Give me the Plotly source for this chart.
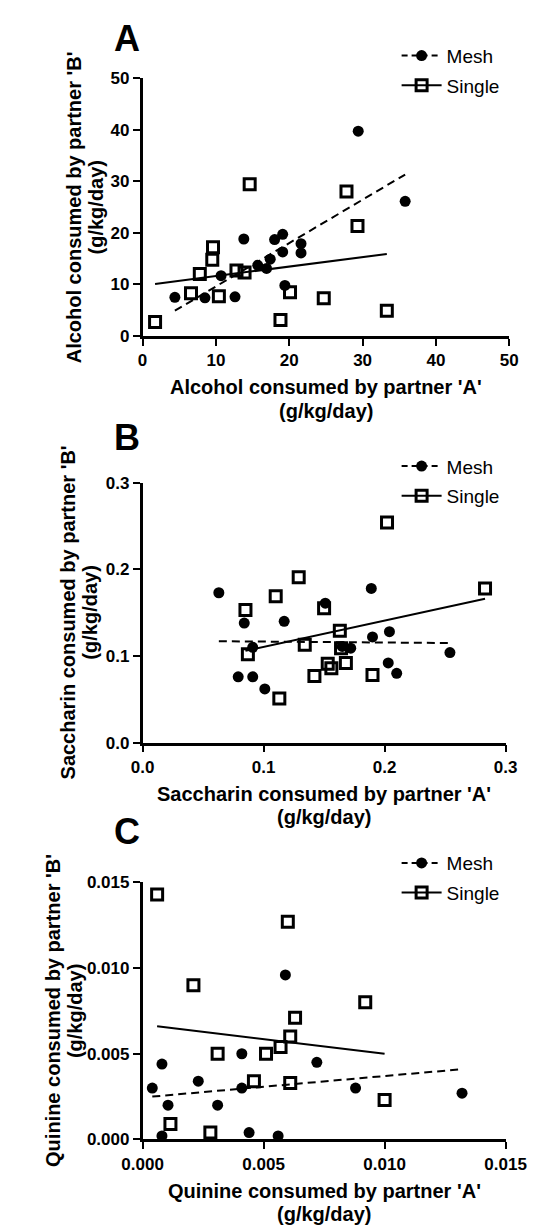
import plotly.graph_objects as go

# data: partner 'A' (x) vs partner 'B' (y), g/kg/day

# A - alcohol
mesh_a_x = [4.4, 8.5, 10.7, 12.6, 13.8, 15.7, 16.9, 17.4, 18.0, 19.1, 19.1, 19.4, 21.6, 21.6, 29.4, 35.8]
mesh_a_y = [7.5, 7.4, 11.7, 7.6, 18.8, 13.7, 13.1, 14.9, 18.7, 19.7, 16.3, 9.8, 17.9, 16.1, 39.7, 26.1]
single_a_x = [1.7, 6.6, 7.8, 9.6, 9.5, 10.4, 12.8, 13.9, 14.6, 18.8, 20.1, 24.7, 27.8, 29.3, 33.3]
single_a_y = [2.7, 8.3, 12.0, 17.2, 14.8, 7.7, 12.7, 12.3, 29.4, 3.1, 8.5, 7.3, 28.0, 21.3, 4.9]
fit_mesh_a_x = [4.4, 35.8]
fit_mesh_a_y = [4.9, 31.3]
fit_single_a_x = [1.7, 33.3]
fit_single_a_y = [10.1, 15.9]

# B - saccharin
mesh_b_x = [0.063, 0.084, 0.091, 0.079, 0.091, 0.101, 0.117, 0.151, 0.165, 0.172, 0.190, 0.189, 0.204, 0.203, 0.210, 0.254]
mesh_b_y = [0.173, 0.138, 0.110, 0.076, 0.076, 0.062, 0.140, 0.161, 0.111, 0.109, 0.122, 0.178, 0.128, 0.092, 0.080, 0.104]
single_b_x = [0.085, 0.087, 0.110, 0.113, 0.129, 0.134, 0.142, 0.150, 0.153, 0.156, 0.163, 0.164, 0.168, 0.190, 0.202, 0.283]
single_b_y = [0.153, 0.102, 0.169, 0.051, 0.191, 0.113, 0.077, 0.155, 0.091, 0.086, 0.129, 0.109, 0.092, 0.078, 0.254, 0.178]
fit_mesh_b_x = [0.063, 0.254]
fit_mesh_b_y = [0.117, 0.115]
fit_single_b_x = [0.085, 0.283]
fit_single_b_y = [0.106, 0.166]

# C - quinine
mesh_c_x = [0.0004, 0.0008, 0.0008, 0.00105, 0.0023, 0.0031, 0.0041, 0.0041, 0.0044, 0.0056, 0.0059, 0.0072, 0.0088, 0.0132]
mesh_c_y = [0.0030, 0.0044, 0.0002, 0.0020, 0.0034, 0.0020, 0.0050, 0.0030, 0.0004, 0.0002, 0.0096, 0.0045, 0.0030, 0.0027]
single_c_x = [0.0006, 0.00115, 0.0021, 0.0028, 0.0031, 0.0046, 0.0051, 0.0057, 0.0060, 0.0061, 0.0061, 0.0063, 0.0092, 0.0100]
single_c_y = [0.0143, 0.0009, 0.0090, 0.0004, 0.0050, 0.0034, 0.0050, 0.0054, 0.0127, 0.0060, 0.0033, 0.0071, 0.0080, 0.0023]
fit_mesh_c_x = [0.0004, 0.0132]
fit_mesh_c_y = [0.0025, 0.0041]
fit_single_c_x = [0.0006, 0.0100]
fit_single_c_y = [0.0066, 0.0050]

panel_letters = ['A', 'B', 'C']
substances = ['Alcohol', 'Saccharin', 'Quinine']
axis_max = [50, 0.3, 0.015]
axis_step = [10, 0.1, 0.005]
tick_fmt = ['d', '.1f', '.3f']

W, H = 550, 1232
FONT = 'Liberation Sans, Arial, sans-serif'
DASH = '8px,5px'

# pixel boxes of each plot area: left, right, top, bottom
boxes = [(123, 520, 62, 324), (123, 516, 473, 737), (123, 516, 879, 1140)]
legend_top = [20, 437, 840]
letter_y = [22, 427, 827]
ytitle_x = [(49, 73), (42, 66), (26, 50)]

panels = [
    (mesh_a_x, mesh_a_y, single_a_x, single_a_y, fit_mesh_a_x, fit_mesh_a_y, fit_single_a_x, fit_single_a_y),
    (mesh_b_x, mesh_b_y, single_b_x, single_b_y, fit_mesh_b_x, fit_mesh_b_y, fit_single_b_x, fit_single_b_y),
    (mesh_c_x, mesh_c_y, single_c_x, single_c_y, fit_mesh_c_x, fit_mesh_c_y, fit_single_c_x, fit_single_c_y),
]

fig = go.Figure()
annotations = []


def label(text, px, py, size, angle=0):
    return dict(text=text, x=px / W, y=1 - py / H, xref='paper', yref='paper',
                xanchor='center', yanchor='middle', textangle=angle, showarrow=False,
                font=dict(family=FONT, size=size, color='black', weight='bold'))


for i, (mx, my, sx, sy, fmx, fmy, fsx, fsy) in enumerate(panels):
    n = '' if i == 0 else str(i + 1)
    xa, ya = 'x' + n, 'y' + n
    leg = 'legend' + n
    mesh_marker = dict(symbol='circle', size=11, color='black')
    single_marker = dict(symbol='square-open', size=11, color='black', line=dict(width=3, color='black'))

    fig.add_trace(go.Scatter(x=fmx, y=fmy, mode='lines', xaxis=xa, yaxis=ya,
                             line=dict(color='black', width=2, dash=DASH), showlegend=False))
    fig.add_trace(go.Scatter(x=fsx, y=fsy, mode='lines', xaxis=xa, yaxis=ya,
                             line=dict(color='black', width=2), showlegend=False))
    fig.add_trace(go.Scatter(x=mx, y=my, mode='markers', xaxis=xa, yaxis=ya, marker=mesh_marker,
                             cliponaxis=False, showlegend=False))
    fig.add_trace(go.Scatter(x=sx, y=sy, mode='markers', xaxis=xa, yaxis=ya, marker=single_marker,
                             cliponaxis=False, showlegend=False))
    # legend entries (line + symbol)
    fig.add_trace(go.Scatter(x=[None], y=[None], mode='lines+markers', name='Mesh', xaxis=xa, yaxis=ya,
                             line=dict(color='black', width=2, dash='6px,4px'), marker=mesh_marker,
                             legend=leg, legendgroup='m' + n))
    fig.add_trace(go.Scatter(x=[None], y=[None], mode='lines+markers', name='Single', xaxis=xa, yaxis=ya,
                             line=dict(color='black', width=2), marker=single_marker,
                             legend=leg, legendgroup='s' + n))

    l, r, t, b = boxes[i]
    dom_x = [l / W, r / W]
    dom_y = [1 - b / H, 1 - t / H]
    ticks = [round(k * axis_step[i], 4) for k in range(6) if k * axis_step[i] <= axis_max[i] * 1.0001]
    axis_common = dict(range=[0, axis_max[i]], tickvals=ticks, tickformat=tick_fmt[i],
                       showline=True, linecolor='black', linewidth=2.5, ticks='outside',
                       ticklen=7, tickwidth=2, tickcolor='black', showgrid=False, zeroline=False,
                       tickfont=dict(family=FONT, size=17, color='black', weight='bold'))
    fig.update_layout(**{
        'xaxis' + n: dict(domain=dom_x, anchor=ya, **axis_common),
        'yaxis' + n: dict(domain=dom_y, anchor=xa, **axis_common),
        leg: dict(x=398 / W, y=1 - legend_top[i] / H, xanchor='left', yanchor='top',
                  font=dict(family=FONT, size=19, color='black'), bgcolor='rgba(0,0,0,0)',
                  tracegroupgap=2, itemwidth=40),
    })

    cx = (l + r) / 2
    cy = (t + b) / 2
    t1, t2 = ytitle_x[i]
    annotations += [
        label(panel_letters[i], 106, letter_y[i], 36),
        label(f"{substances[i]} consumed by partner 'A'", cx, b + 52, 20),
        label('(g/kg/day)', cx, b + 76, 20),
        label(f"{substances[i]} consumed by partner 'B'", t1, cy, 20, angle=-90),
        label('(g/kg/day)', t2, cy, 20, angle=-90),
    ]

fig.update_layout(width=W, height=H, margin=dict(l=0, r=0, t=0, b=0),
                  plot_bgcolor='white', paper_bgcolor='white', annotations=annotations)

fig.write_html("out.html")
